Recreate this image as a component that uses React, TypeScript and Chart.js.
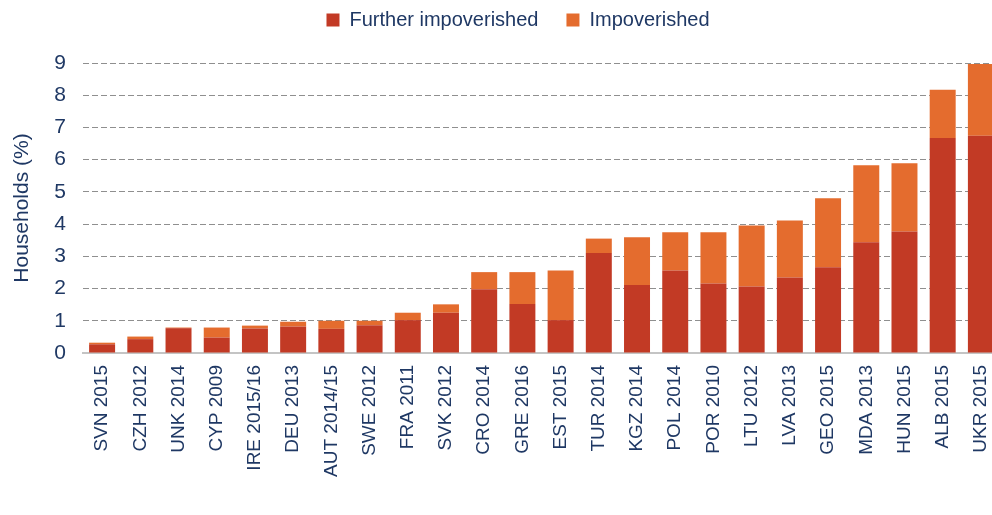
import React, { useEffect, useRef } from "react";
import { Chart, registerables } from "chart.js";

Chart.register(...registerables);

const categories = [
  "SVN 2015", "CZH 2012", "UNK 2014", "CYP 2009", "IRE 2015/16", "DEU 2013",
  "AUT 2014/15", "SWE 2012", "FRA 2011", "SVK 2012", "CRO 2014", "GRE 2016",
  "EST 2015", "TUR 2014", "KGZ 2014", "POL 2014", "POR 2010", "LTU 2012",
  "LVA 2013", "GEO 2015", "MDA 2013", "HUN 2015", "ALB 2015", "UKR 2015",
];

const furtherImpoverished = [
  0.27, 0.43, 0.77, 0.48, 0.76, 0.82, 0.75, 0.86, 1.02, 1.25, 1.98, 1.52,
  1.02, 3.1, 2.11, 2.56, 2.16, 2.06, 2.34, 2.66, 3.44, 3.77, 6.67, 6.74,
];

const impoverished = [
  0.05, 0.08, 0.02, 0.31, 0.09, 0.15, 0.25, 0.14, 0.23, 0.26, 0.53, 0.99,
  1.54, 0.45, 1.48, 1.19, 1.59, 1.9, 1.77, 2.14, 2.39, 2.12, 1.5, 2.23,
];

const yTicks = [0, 1, 2, 3, 4, 5, 6, 7, 8, 9];

const NAVY = "#1F3864";
const RED = "#C23A25";
const ORANGE = "#E46C2E";
const FONT = "'Liberation Sans', Arial, sans-serif";

const legendShift = {
  id: "legendShift",
  afterLayout(chart: any) {
    const lg = chart.legend;
    if (!lg) return;
    const dx = 18;
    const dy = 23;
    lg.left += dx;
    lg.right += dx;
    lg.top -= dy;
    lg.bottom -= dy;
  },
};

export default function App() {
  const ref = useRef<HTMLCanvasElement | null>(null);

  useEffect(() => {
    document.body.style.margin = "0";
    const canvas = ref.current;
    if (!canvas) return;
    const chart = new Chart(canvas, {
      type: "bar",
      data: {
        labels: categories,
        datasets: [
          {
            label: "Further impoverished",
            data: furtherImpoverished,
            backgroundColor: RED,
            borderWidth: 0,
            barPercentage: 0.68,
            categoryPercentage: 1,
          },
          {
            label: "Impoverished",
            data: impoverished,
            backgroundColor: ORANGE,
            borderWidth: 0,
            barPercentage: 0.68,
            categoryPercentage: 1,
          },
        ],
      },
      plugins: [legendShift],
      options: {
        responsive: false,
        animation: false,
        layout: { padding: { top: 5, left: 0, right: 0, bottom: 0 } },
        plugins: {
          tooltip: { enabled: false },
          legend: {
            position: "top",
            align: "center",
            labels: {
              boxWidth: 13,
              boxHeight: 13,
              padding: 28,
              color: NAVY,
              font: { family: FONT, size: 20 },
            },
          },
        },
        scales: {
          x: {
            stacked: true,
            grid: { display: false, drawTicks: false },
            border: { display: true, color: "#c4c4c4", width: 2 },
            ticks: {
              minRotation: 90,
              maxRotation: 90,
              autoSkip: false,
              padding: 12,
              color: NAVY,
              font: { family: FONT, size: 19 },
            },
            afterFit: (scale: any) => {
              scale.height = 162;
              scale.paddingRight = 0;
              scale.paddingLeft = 0;
            },
          },
          y: {
            stacked: true,
            min: 0,
            max: 9,
            afterBuildTicks: (scale: any) => {
              scale.ticks = yTicks.map((v) => ({ value: v }));
            },
            grid: {
              drawTicks: false,
              color: (ctx: any) =>
                ctx.tick && ctx.tick.value === 0 ? "rgba(0,0,0,0)" : "#8f8f8f",
              lineWidth: 1,
            },
            border: { display: false, dash: [6, 3] },
            ticks: {
              padding: 17,
              color: NAVY,
              font: { family: FONT, size: 21 },
            },
            title: {
              display: true,
              text: "Households (%)",
              color: NAVY,
              font: { family: FONT, size: 21 },
              padding: { top: 10, bottom: 0 },
            },
            afterFit: (scale: any) => {
              scale.width = 83;
            },
          },
        },
      },
    });
    return () => chart.destroy();
  }, []);

  return (
    <div style={{ width: 992, height: 515, overflow: "hidden" }}>
      <canvas ref={ref} width={1000} height={515} style={{ width: 1000, height: 515, display: "block" }} />
    </div>
  );
}
